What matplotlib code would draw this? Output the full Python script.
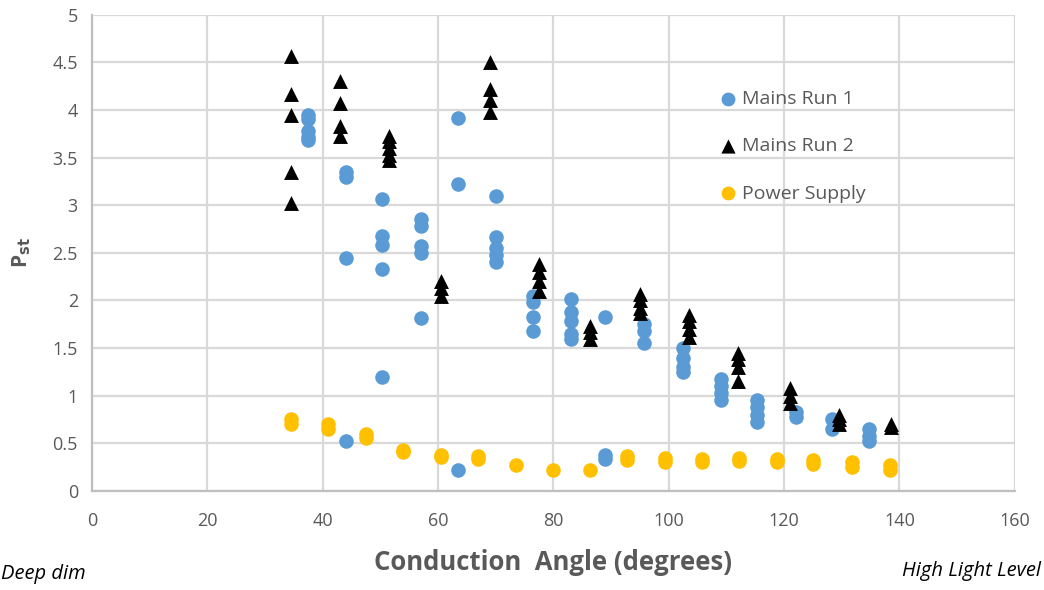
import matplotlib
matplotlib.use("Agg")
import matplotlib.pyplot as plt

# Mains Run 1 (blue circles)
run1_x = [37.5]*5 + [44]*4 + [50.3]*5 + [57]*5 + [63.5]*3 + [70]*5 + [76.5]*4 + [83]*5 + [89]*3 + [95.8]*3 + [102.5]*4 + [109]*4 + [115.3]*4 + [122]*2 + [128.3]*2 + [134.7]*3
run1_y = [3.95, 3.9, 3.78, 3.72, 3.68,
          3.35, 3.3, 2.45, 0.52,
          3.07, 2.68, 2.58, 2.33, 1.2,
          2.85, 2.78, 2.57, 2.5, 1.82,
          3.92, 3.22, 0.22,
          3.1, 2.67, 2.55, 2.48, 2.4,
          2.05, 1.98, 1.83, 1.68,
          2.02, 1.88, 1.78, 1.65, 1.6,
          1.83, 0.38, 0.33,
          1.75, 1.68, 1.55,
          1.5, 1.4, 1.3, 1.25,
          1.18, 1.1, 1.03, 0.95,
          0.95, 0.88, 0.8, 0.72,
          0.83, 0.78,
          0.75, 0.65,
          0.65, 0.58, 0.52]

# Mains Run 2 (black triangles)
run2_x = [34.5]*5 + [43]*4 + [51.5]*5 + [60.5]*3 + [69]*4 + [77.5]*4 + [86.3]*3 + [95]*4 + [103.5]*4 + [112]*4 + [121]*3 + [129.5]*3 + [138.5]*2
run2_y = [4.57, 4.17, 3.95, 3.35, 3.02,
          4.3, 4.07, 3.83, 3.73,
          3.73, 3.67, 3.6, 3.53, 3.47,
          2.2, 2.13, 2.05,
          4.5, 4.22, 4.1, 3.98,
          2.38, 2.3, 2.2, 2.1,
          1.73, 1.67, 1.6,
          2.07, 2.0, 1.92, 1.87,
          1.85, 1.78, 1.7, 1.62,
          1.45, 1.38, 1.3, 1.15,
          1.08, 1.0, 0.92,
          0.8, 0.75, 0.7,
          0.7, 0.67]

# Power Supply (yellow circles)
ps_x = [34.5]*2 + [41]*2 + [47.5]*2 + [54]*2 + [60.5]*2 + [67]*2 + [73.5] + [80] + [86.3] + [92.8]*2 + [99.3]*2 + [105.7]*2 + [112.2]*2 + [118.7]*2 + [125]*2 + [131.8]*2 + [138.3]*2
ps_y = [0.75, 0.7, 0.7, 0.65, 0.6, 0.56, 0.43, 0.41, 0.38, 0.36, 0.37, 0.34,
        0.27, 0.22, 0.22, 0.37, 0.32, 0.35, 0.3, 0.34, 0.3, 0.35, 0.31,
        0.34, 0.3, 0.32, 0.28, 0.3, 0.25, 0.27, 0.22]

x_ticks = [0, 20, 40, 60, 80, 100, 120, 140, 160]
y_ticks = [0, 0.5, 1, 1.5, 2, 2.5, 3, 3.5, 4, 4.5, 5]
y_tick_labels = ["0", "0.5", "1", "1.5", "2", "2.5", "3", "3.5", "4", "4.5", "5"]

plt.rcParams['font.family'] = ['Open Sans', 'DejaVu Sans']

fig = plt.figure(figsize=(10.44, 5.9), dpi=100)
ax = fig.add_axes([0.088, 0.168, 0.884, 0.807])

blue = '#5b9bd5'
yellow = '#ffc000'
grid = '#d9d9d9'
tickc = '#595959'

ax.scatter(run1_x, run1_y, s=110, marker='o', color=blue, label='Mains Run 1', zorder=3, linewidths=0)
ax.scatter(run2_x, run2_y, s=115, marker='^', color='black', label='Mains Run 2', zorder=4, linewidths=0)
ax.scatter(ps_x, ps_y, s=110, marker='o', color=yellow, label='Power Supply', zorder=3, linewidths=0)

ax.set_xlim(0, 160)
ax.set_ylim(0, 5)
ax.set_xticks(x_ticks)
ax.set_yticks(y_ticks)
ax.set_yticklabels(y_tick_labels)
ax.grid(True, color=grid, linewidth=1.6, zorder=0)
ax.set_axisbelow(True)
for side in ['top', 'right']:
    ax.spines[side].set_visible(False)
for side in ['left', 'bottom']:
    ax.spines[side].set_color('#bfbfbf')
    ax.spines[side].set_linewidth(1.6)
ax.tick_params(axis='both', length=0, labelsize=13, colors=tickc)
ax.tick_params(axis='x', pad=15)
ax.tick_params(axis='y', pad=10)

ax.set_xlabel('Conduction  Angle (degrees)', fontsize=18.5, fontweight='bold', color=tickc, labelpad=14)
ax.set_ylabel(r'P$_{\mathbf{st}}$', fontsize=15, fontweight='bold', color=tickc, labelpad=14)

fig.text(0.001, 0.027, 'Deep dim', fontsize=14.5, style='italic', color='black', ha='left', va='center')
fig.text(0.997, 0.032, 'High Light Level', fontsize=14.5, style='italic', color='black', ha='right', va='center')

leg = ax.legend(loc='upper left', bbox_to_anchor=(0.658, 0.862), frameon=False, fontsize=14,
                labelspacing=1.5, handletextpad=-0.3, borderpad=0, markerscale=0.95)
for t in leg.get_texts():
    t.set_color(tickc)

fig.savefig('out.png', dpi=100)
